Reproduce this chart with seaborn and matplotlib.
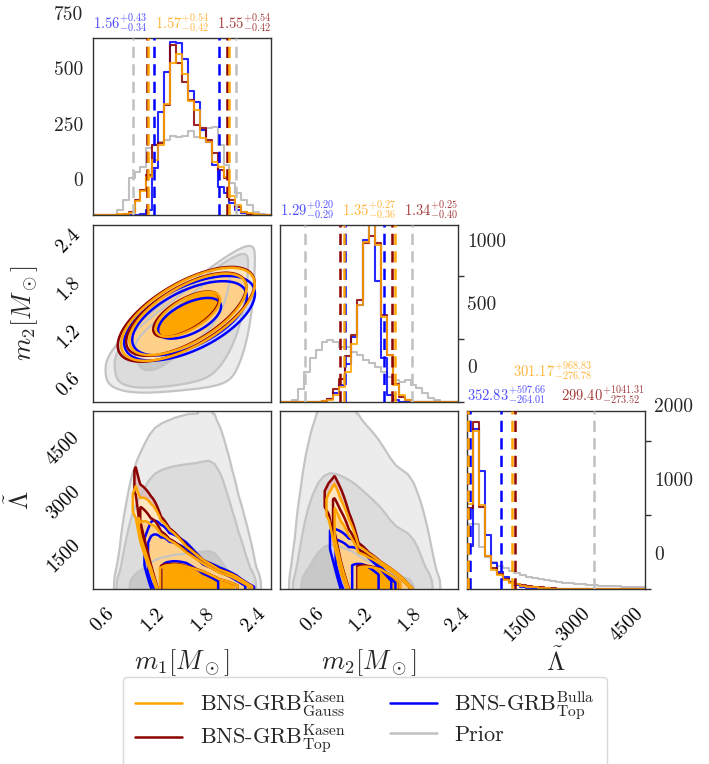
import numpy as np
import pandas as pd
import matplotlib
matplotlib.use("Agg")
import matplotlib.pyplot as plt
import seaborn as sns
from matplotlib.lines import Line2D
from matplotlib.transforms import blended_transform_factory, offset_copy

# ---------------------------------------------------------------- data
M1_RANGE = (0.49, 2.61)
M2_RANGE = (0.19, 2.41)
LAM_RANGE = (0.0, 5000.0)
N_BINS = 30

# 1D histograms (30 bins over each range)
m1_gauss = [0, 0, 0, 0, 3, 6, 10, 65, 110, 173, 249, 316, 502, 685, 726,
            637, 517, 474, 346, 331, 241, 218, 173, 86, 45, 15, 8, 3, 0, 0]
m1_top = [0, 0, 0, 0, 2, 5, 15, 68, 113, 181, 316, 324, 497, 768, 685,
          602, 520, 407, 392, 339, 279, 203, 166, 68, 38, 14, 5, 2, 0, 0]
m1_bulla = [0, 0, 0, 0, 0, 0, 0, 0, 5, 23, 211, 467, 648, 780, 776,
            703, 562, 512, 384, 331, 226, 128, 98, 53, 23, 8, 3, 0, 0, 0]
m1_prior = [0, 0, 0, 0, 23, 68, 166, 196, 218, 301, 316, 331, 339, 357, 354,
            357, 380, 354, 384, 392, 399, 316, 226, 143, 98, 68, 45, 15, 5, 0]

m2_gauss = [0, 0, 0, 0, 0, 0, 0, 5, 13, 53, 119, 238, 463, 767, 1270,
            1480, 1243, 674, 370, 132, 53, 13, 0, 0, 0, 0, 0, 0, 0, 0]
m2_top = [0, 0, 0, 0, 0, 0, 0, 5, 27, 106, 185, 365, 529, 812, 1262,
          1318, 1262, 688, 370, 146, 40, 13, 0, 0, 0, 0, 0, 0, 0, 0]
m2_bulla = [0, 0, 0, 0, 0, 0, 0, 5, 27, 71, 132, 304, 516, 767, 1289,
            1700, 958, 351, 55, 13, 0, 0, 0, 0, 0, 0, 0, 0, 0, 0]
m2_prior = [0, 0, 16, 101, 241, 347, 413, 479, 492, 479, 439, 439, 399, 373, 333,
            307, 280, 241, 201, 175, 161, 175, 135, 108, 69, 29, 16, 0, 0, 0]

lam_gauss = [1150, 2139, 1135, 446, 257, 189, 122, 86, 63, 45, 32, 23, 14, 8, 5,
             3, 2, 0, 0, 0, 0, 0, 0, 0, 0, 0, 0, 0, 0, 0]
lam_top = [1100, 2261, 1112, 446, 280, 198, 131, 90, 68, 50, 41, 32, 23, 14, 9,
           5, 3, 0, 0, 0, 0, 0, 0, 0, 0, 0, 0, 0, 0, 0]
lam_bulla = [580, 2160, 1595, 730, 356, 234, 167, 99, 54, 32, 18, 9, 4, 0, 0,
             0, 0, 0, 0, 0, 0, 0, 0, 0, 0, 0, 0, 0, 0, 0]
lam_prior = [878, 878, 572, 437, 369, 315, 279, 248, 212, 189, 167, 148, 133, 118, 105,
             94, 85, 77, 70, 63, 57, 52, 47, 43, 39, 36, 33, 30, 28, 26]

# credible-interval bounds (dashed lines) and titles
m1_bounds = {"prior": [0.97, 2.19], "bulla": [1.22, 1.99], "top": [1.13, 2.09], "gauss": [1.15, 2.11]}
m2_bounds = {"prior": [0.50, 1.84], "bulla": [1.00, 1.49], "top": [0.94, 1.59], "gauss": [0.99, 1.62]}
lam_bounds = {"prior": [10.0, 3575.0], "bulla": [88.8, 950.5], "top": [25.9, 1340.7], "gauss": [24.4, 1270.0]}
m1_titles = {"bulla": r"$1.56^{+0.43}_{-0.34}$", "gauss": r"$1.57^{+0.54}_{-0.42}$", "top": r"$1.55^{+0.54}_{-0.42}$"}
m2_titles = {"bulla": r"$1.29^{+0.20}_{-0.29}$", "gauss": r"$1.35^{+0.27}_{-0.36}$", "top": r"$1.34^{+0.25}_{-0.40}$"}
lam_titles = {"bulla": r"$352.83^{+597.66}_{-264.01}$", "gauss": r"$301.17^{+968.83}_{-276.78}$",
              "top": r"$299.40^{+1041.31}_{-273.52}$"}

# 2D posterior shape parameters
# m1-m2 ellipses: centre m1, centre m2, sigma major, sigma minor, angle (deg)
m1m2_gauss = [1.62, 1.29, 0.37, 0.16, 32.0]
m1m2_top = [1.60, 1.29, 0.38, 0.16, 32.0]
m1m2_bulla = [1.64, 1.24, 0.35, 0.16, 28.0]
# prior m1-m2: upper edge slope/intercept, decay below edge, m2 floor, m1 centre/width
prior_m1m2 = [0.80, 0.25, 0.75, 0.38, 1.55, 0.62]

# mass-Lambda posteriors: mass profile (centre, left/right width, left/right power);
# flat Lambda band [bot, top] with exponential fall-off scales (up / low) at the knots
m1_knots = [0.90, 1.00, 1.054, 1.18, 1.30, 1.40, 1.60, 1.80, 2.00, 2.20, 2.35, 2.60]
m1lam_gauss = {"prof": [1.75, 0.41, 0.43, 2.75, 4.6],
               "top": [2800, 2600, 1700, 900, 573, 510, 470, 400, 200, 100, 80, 30],
               "up": [800, 800, 1000, 850, 576, 432, 244, 138, 113, 103, 60, 30],
               "bot": [2300, 2100, 1550, 800, -100, -100, -100, -100, -100, -100, -100, -100],
               "low": [300, 300, 265, 200, 100, 100, 100, 100, 100, 100, 100, 100]}
m1lam_top = {"prof": [1.75, 0.40, 0.43, 2.75, 4.6],
             "top": [3500, 3300, 2300, 1100, 650, 540, 480, 400, 200, 100, 80, 30],
             "up": [700, 700, 900, 900, 600, 440, 250, 140, 115, 105, 60, 30],
             "bot": [2900, 2700, 1900, 900, -100, -100, -100, -100, -100, -100, -100, -100],
             "low": [300, 300, 300, 220, 100, 100, 100, 100, 100, 100, 100, 100]}
m1lam_bulla = {"prof": [1.64, 0.307, 0.284, 3.2, 1.8],
               "top": [1600, 1600, 1550, 1200, 625, 600, 560, 350, 200, 120, 80, 30],
               "up": [500, 500, 500, 580, 510, 350, 250, 160, 180, 200, 150, 50],
               "bot": [1200, 1100, 900, 300, -100, -100, -100, -100, -100, -100, -100, -100],
               "low": [300, 300, 300, 220, 100, 100, 100, 100, 100, 100, 100, 100]}
m2_knots = [0.70, 0.80, 0.87, 0.95, 1.05, 1.17, 1.30, 1.45, 1.60, 1.75, 1.85, 2.00]
m2lam_gauss = {"prof": [1.43, 0.211, 0.235, 1.57, 3.2],
               "top": [2600, 2500, 2300, 1474, 820, 600, 546, 480, 300, 100, 20, 10],
               "up": [900, 900, 970, 870, 650, 260, 161, 90, 80, 79, 40, 30],
               "bot": [2200, 2000, 1460, 900, 200, -100, -100, -100, -100, -100, -100, -100],
               "low": [300, 300, 400, 380, 200, 100, 100, 100, 100, 100, 100, 100]}
m2lam_top = {"prof": [1.42, 0.215, 0.24, 1.57, 3.2],
             "top": [2800, 2700, 2450, 1650, 900, 630, 560, 485, 300, 105, 20, 10],
             "up": [800, 800, 900, 900, 680, 280, 165, 92, 82, 80, 40, 30],
             "bot": [2400, 2200, 1650, 1000, 250, -100, -100, -100, -100, -100, -100, -100],
             "low": [300, 300, 400, 380, 200, 100, 100, 100, 100, 100, 100, 100]}
m2lam_bulla = {"prof": [1.27, 0.146, 0.123, 1.57, 1.67],
               "top": [1800, 1700, 1450, 1100, 700, 600, 500, 380, 200, 80, 30, 10],
               "up": [400, 400, 420, 400, 350, 250, 160, 120, 90, 60, 40, 30],
               "bot": [1400, 1200, 800, 300, -100, -100, -100, -100, -100, -100, -100, -100],
               "low": [300, 300, 300, 250, 150, 100, 100, 100, 100, 100, 100, 100]}

POST_LEVELS = [0.05, 0.1, 0.5]      # fractions of the peak density (95%, 90%, 50% regions)
PRIOR_CRED = {"m1m2": [0.5, 0.9, 0.97], "m1lam": [0.5, 0.9, 0.97], "m2lam": [0.5, 0.85, 0.97]}

# ---------------------------------------------------------------- style
sns.set_theme(style="white")
plt.rcParams.update({
    "font.family": ["cmr10", "DejaVu Serif"],
    "mathtext.fontset": "cm",
    "axes.formatter.use_mathtext": True,
    "axes.edgecolor": "#333333",
    "axes.linewidth": 1.0,
    "xtick.color": "#333333",
    "ytick.color": "#333333",
    "xtick.labelcolor": "black",
    "ytick.labelcolor": "black",
})

C = {"gauss": "#ffa500", "top": "#8b0000", "bulla": "#0000ff", "prior": "#c0c0c0"}
FILLS = {
    "prior": ["#ececec", "#dcdcdc", "#c8c8c8"],
    "gauss": ["#ffe6c3", "#ffd089", "#ffa500"],
    "top": ["#e2c0c0", "#d09c9c", "#a04040"],
    "bulla": ["#cfcfff", "#b0b0ff", "#7070ff"],
}
LINES = {"prior": "#c4c4c4", "gauss": "#ffa500", "top": "#8b0000", "bulla": "#0000ff"}

W, H = 709, 764
fig = plt.figure(figsize=(W / 100, H / 100), dpi=100)
cols = [93, 280, 467]
rows = [(38, 177), (225, 177), (411, 178)]
colw = 178


def make_ax(r, c):
    top, h = rows[r]
    return fig.add_axes([cols[c] / W, 1 - (top + h) / H, colw / W, h / H])


axes = {}
for r in range(3):
    for c in range(r + 1):
        axes[(r, c)] = make_ax(r, c)


def edges(rng):
    return np.linspace(rng[0], rng[1], N_BINS + 1)


def smooth(a, n=2):
    a = np.asarray(a, float)
    for _ in range(n):
        a = np.convolve(np.pad(a, 1, mode="edge"), [0.25, 0.5, 0.25], mode="valid")
    return a


def sig(x):
    return 1.0 / (1.0 + np.exp(-np.clip(x, -60, 60)))


def hpd_levels(Z, probs):
    z = np.sort(Z.ravel())[::-1]
    cs = np.cumsum(z)
    cs /= cs[-1]
    return [z[min(np.searchsorted(cs, p), len(z) - 1)] for p in probs]  # descending


def levels_for(Z, key, cred=None):
    if key == "prior":
        l50, l90, l95 = hpd_levels(Z, cred)
        return [l95, l90, l50]
    return [f * Z.max() for f in POST_LEVELS]


def draw_fill(ax, X, Y, Z, key, cred=None):
    lv = levels_for(Z, key, cred)
    ax.contourf(X, Y, Z, levels=lv + [Z.max() * 1.001], colors=FILLS[key], antialiased=True)


def draw_lines(ax, X, Y, Z, key, cred=None, lw=1.8):
    ax.contour(X, Y, Z, levels=levels_for(Z, key, cred), colors=LINES[key], linewidths=lw)


# ---------------------------------------------------------------- diagonal histograms
def diag(ax, rng, data, bounds, ylim):
    e = edges(rng)
    centers = 0.5 * (e[1:] + e[:-1])
    for key in ["prior", "bulla", "top", "gauss"]:
        df = pd.DataFrame({"x": centers, "w": np.asarray(data[key], float)})
        sns.histplot(data=df, x="x", weights="w", bins=N_BINS, binrange=rng, element="step", fill=False,
                     color=C[key], linewidth=1.5, alpha=0.85 if key != "prior" else 1.0, ax=ax)
    for key in ["prior", "bulla", "top", "gauss"]:
        for b in bounds[key]:
            ax.axvline(b, color=C[key], ls=(0, (4.5, 2.5)), lw=1.8, zorder=5)
    ax.set_xlim(rng)
    ax.set_ylim(ylim)
    ax.set_xlabel("")
    ax.set_ylabel("")


diag(axes[(0, 0)], M1_RANGE, {"gauss": m1_gauss, "top": m1_top, "bulla": m1_bulla, "prior": m1_prior},
     m1_bounds, (0, 800))
diag(axes[(1, 1)], M2_RANGE, {"gauss": m2_gauss, "top": m2_top, "bulla": m2_bulla, "prior": m2_prior},
     m2_bounds, (0, 1405))
diag(axes[(2, 2)], LAM_RANGE, {"gauss": lam_gauss, "top": lam_top, "bulla": lam_bulla, "prior": lam_prior},
     lam_bounds, (0, 2405))

# ---------------------------------------------------------------- 2D densities
gm1 = np.linspace(*M1_RANGE, 280)
gm2 = np.linspace(*M2_RANGE, 280)
glam = np.linspace(*LAM_RANGE, 400)


def hist_func(hist, rng, grid):
    e = edges(rng)
    centers = 0.5 * (e[1:] + e[:-1])
    return np.interp(grid, centers, smooth(hist), left=0, right=0)


f1p = hist_func(m1_prior, M1_RANGE, gm1)
f2p = hist_func(m2_prior, M2_RANGE, gm2)
e = edges(LAM_RANGE)
gp = np.interp(glam, 0.5 * (e[1:] + e[:-1]), smooth(lam_prior, 1), left=lam_prior[0], right=lam_prior[-1])


def gauss2d(X, Y, p):
    mx, my, sa, sb, th = p
    t = np.deg2rad(th)
    u = (X - mx) * np.cos(t) + (Y - my) * np.sin(t)
    v = -(X - mx) * np.sin(t) + (Y - my) * np.cos(t)
    return np.exp(-0.5 * ((u / sa) ** 2 + (v / sb) ** 2))


def band(M, L, knots, p):
    mu, sl, sr, pl, pr = p["prof"]
    x = M - mu
    s = np.where(x < 0, sl, sr)
    pw = np.where(x < 0, pl, pr)
    f = np.exp(-0.5 * (np.abs(x) / s) ** pw)
    top = np.interp(M, knots, p["top"])
    up = np.interp(M, knots, p["up"])
    bot = np.interp(M, knots, p["bot"])
    low = np.interp(M, knots, p["low"])
    g = np.exp(-np.maximum(L - top, 0) / up) * np.exp(-np.maximum(bot - L, 0) / low)
    return f * g


def panel(ax, X, Y, Zp, cred, post):
    draw_fill(ax, X, Y, Zp, "prior", cred)
    draw_lines(ax, X, Y, Zp, "prior", cred, lw=1.6)
    for k in ["bulla", "top", "gauss"]:
        draw_fill(ax, X, Y, post[k], k)
    for k in ["bulla", "top", "gauss"]:
        draw_lines(ax, X, Y, post[k], k)


# m1-m2 panel
X, Y = np.meshgrid(gm1, gm2)
slope, icpt, dec, floor, mc, mw = prior_m1m2
d = (slope * X + icpt) - Y
Zp = (sig(d / 0.05) * np.exp(-0.5 * (d / dec) ** 2) * sig((Y - floor) / 0.05)
      * np.exp(-0.5 * ((X - mc) / mw) ** 4) * sig((2.45 - X) / 0.05))
panel(axes[(1, 0)], X, Y, Zp, PRIOR_CRED["m1m2"],
      {"bulla": gauss2d(X, Y, m1m2_bulla), "top": gauss2d(X, Y, m1m2_top), "gauss": gauss2d(X, Y, m1m2_gauss)})

# m1-Lambda panel
X, Y = np.meshgrid(gm1, glam)
panel(axes[(2, 0)], X, Y, np.outer(gp, f1p), PRIOR_CRED["m1lam"],
      {"bulla": band(X, Y, m1_knots, m1lam_bulla), "top": band(X, Y, m1_knots, m1lam_top),
       "gauss": band(X, Y, m1_knots, m1lam_gauss)})

# m2-Lambda panel
X, Y = np.meshgrid(gm2, glam)
panel(axes[(2, 1)], X, Y, np.outer(gp, f2p), PRIOR_CRED["m2lam"],
      {"bulla": band(X, Y, m2_knots, m2lam_bulla), "top": band(X, Y, m2_knots, m2lam_top),
       "gauss": band(X, Y, m2_knots, m2lam_gauss)})

# ---------------------------------------------------------------- axes cosmetics
m_ticks = [0.6, 1.2, 1.8, 2.4]
m_labels = ["0.6", "1.2", "1.8", "2.4"]
lam_ticks = [1500, 3000, 4500]
lam_labels = ["1500", "3000", "4500"]
TS = 14

for (r, c), ax in axes.items():
    ax.tick_params(direction="out", length=4, width=1, labelsize=TS, pad=3)
    rng = [M1_RANGE, M2_RANGE, LAM_RANGE][c]
    ax.set_xlim(rng)
    ax.set_xticks(lam_ticks if c == 2 else m_ticks)
    if r == 2:
        ax.set_xticklabels(lam_labels if c == 2 else m_labels, rotation=45, ha="center")
        ax.tick_params(axis="x", pad=7)
    else:
        ax.set_xticklabels([])
    if r != c:
        ax.set_ylim(M2_RANGE if r == 1 else LAM_RANGE)
        ax.set_yticks(m_ticks if r == 1 else lam_ticks)
        if c == 0:
            ax.set_yticklabels(m_labels if r == 1 else lam_labels, rotation=45, va="top")
        else:
            ax.set_yticklabels([])
    for sp in ax.spines.values():
        sp.set_color("#333333")
        sp.set_linewidth(1.0)

# diagonal count axes: tick marks at true values, labels drawn shifted up
diag_ticks = {(0, 0): ([0, 250, 500, 750], "left"), (1, 1): ([0, 500, 1000], "right"),
              (2, 2): ([0, 1000, 2000], "right")}
for key, (vals, side) in diag_ticks.items():
    ax = axes[key]
    ax.set_yticks(vals)
    ax.set_yticklabels([])
    if side == "right":
        ax.yaxis.tick_right()
    base = blended_transform_factory(ax.transAxes, ax.transData)
    for v in vals:
        if side == "left":
            tr = offset_copy(base, fig=fig, x=-10, y=34, units="dots")
            ax.text(0, v, f"{v}", transform=tr, ha="right", va="center", fontsize=TS, clip_on=False)
        else:
            tr = offset_copy(base, fig=fig, x=9, y=34, units="dots")
            ax.text(1, v, f"{v}", transform=tr, ha="left", va="center", fontsize=TS, clip_on=False)

# axis labels
LS = 19
axes[(2, 0)].set_xlabel(r"$m_1[M_\odot]$", fontsize=LS)
axes[(2, 1)].set_xlabel(r"$m_2[M_\odot]$", fontsize=LS)
axes[(2, 2)].set_xlabel(r"$\tilde{\Lambda}$", fontsize=LS)
for c in range(3):
    axes[(2, c)].xaxis.set_label_coords(0.5, -0.33)
axes[(1, 0)].set_ylabel(r"$m_2[M_\odot]$", fontsize=LS)
axes[(1, 0)].yaxis.set_label_coords(-0.30, 0.5)
axes[(2, 0)].set_ylabel(r"$\tilde{\Lambda}$", fontsize=LS)
axes[(2, 0)].yaxis.set_label_coords(-0.33, 0.5)

# titles above the diagonal panels
TT = 10.5
tcol = {"bulla": "#4d4dff", "gauss": "#ffb53a", "top": "#a33a3a"}
for key, titles in [((0, 0), m1_titles), ((1, 1), m2_titles)]:
    ax = axes[key]
    ax.text(0.0, 1.015, titles["bulla"], transform=ax.transAxes, ha="left", va="bottom", color=tcol["bulla"], fontsize=TT)
    ax.text(0.5, 1.015, titles["gauss"], transform=ax.transAxes, ha="center", va="bottom", color=tcol["gauss"], fontsize=TT)
    ax.text(1.0, 1.015, titles["top"], transform=ax.transAxes, ha="right", va="bottom", color=tcol["top"], fontsize=TT)
ax = axes[(2, 2)]
ax.text(0.48, 1.155, lam_titles["gauss"], transform=ax.transAxes, ha="center", va="bottom", color=tcol["gauss"], fontsize=TT)
ax.text(0.0, 1.02, lam_titles["bulla"], transform=ax.transAxes, ha="left", va="bottom", color=tcol["bulla"], fontsize=TT)
ax.text(1.0, 1.02, lam_titles["top"], transform=ax.transAxes, ha="right", va="bottom", color=tcol["top"], fontsize=TT)

# legend
handles = [Line2D([], [], color=C["gauss"], lw=1.8), Line2D([], [], color=C["top"], lw=1.8),
           Line2D([], [], color=C["bulla"], lw=1.8), Line2D([], [], color=C["prior"], lw=1.8)]
labels = [r"BNS-GRB$^{\rm Kasen}_{\rm Gauss}$", r"BNS-GRB$^{\rm Kasen}_{\rm Top}$",
          r"BNS-GRB$^{\rm Bulla}_{\rm Top}$", "Prior"]
leg = fig.legend(handles, labels, loc="upper left", bbox_to_anchor=(123 / W, 1 - 677 / H), ncol=2,
                 fontsize=16, frameon=True, fancybox=True, handlelength=2.1, handletextpad=0.8,
                 columnspacing=2.0, borderpad=0.55, labelspacing=0.15, borderaxespad=0.0)
leg.get_frame().set_edgecolor("#d0d0d0")
leg.get_frame().set_linewidth(1.0)

fig.savefig("out.png", dpi=100, facecolor="white")
